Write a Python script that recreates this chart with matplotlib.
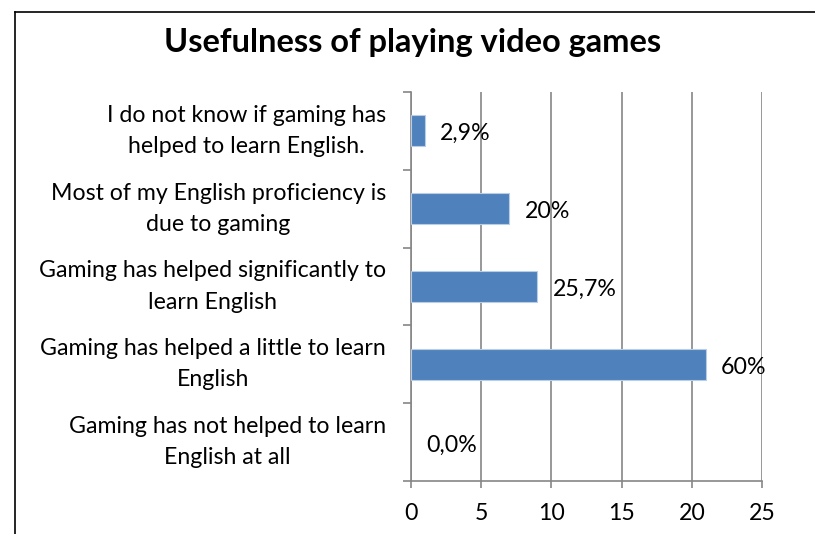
import matplotlib.pyplot as plt
from matplotlib.lines import Line2D
import numpy as np

categories = [
    'Gaming has not helped to learn\nEnglish at all',
    'Gaming has helped a little to learn\nEnglish',
    'Gaming has helped significantly to\nlearn English',
    'Most of my English proficiency is\ndue to gaming',
    'I do not know if gaming has\nhelped to learn English.',
]
counts = [0, 21, 9, 7, 1]
pct_labels = ['0,0%', '60%', '25,7%', '20%', '2,9%']
x_ticks = [0, 5, 10, 15, 20, 25]

plt.rcParams['font.family'] = ['Lato', 'DejaVu Sans']
FS = 16.7

fig = plt.figure(figsize=(8.15, 5.34), dpi=100)
ax = fig.add_axes([0.5043, 0.0993, 0.4307, 0.7284])

y = np.arange(len(categories))
edges = ['#b9cde5' if c > 0 else 'none' for c in counts]
ax.barh(y, counts, height=0.4, color='#4f81bd', edgecolor=edges, linewidth=0.8, zorder=3)

for yi, c, lab in zip(y, counts, pct_labels):
    ax.annotate(lab, (c, yi), xytext=(11, -2), textcoords='offset points',
                ha='left', va='center', fontsize=FS, color='black', zorder=4)

ax.set_xlim(0, 25)
ax.set_ylim(-0.5, len(categories) - 0.5)
ax.set_xticks(x_ticks)
ax.set_xticklabels([str(t) for t in x_ticks], fontsize=FS)
ax.set_yticks(y)
ax.set_yticklabels(categories, fontsize=FS, multialignment='center', linespacing=1.6, va='center')
ax.set_yticks(np.arange(-0.5, len(categories)), minor=True)
ax.tick_params(axis='y', which='major', length=0, pad=18)
ax.tick_params(axis='y', which='minor', length=6, width=1.2, color='#868686', direction='out')
ax.tick_params(axis='x', length=5, width=1.2, color='#868686', pad=11)

ax.grid(axis='x', color='#868686', linewidth=1.2, zorder=0)
for s in ['top', 'right']:
    ax.spines[s].set_visible(False)
for s in ['left', 'bottom']:
    ax.spines[s].set_color('#868686')
    ax.spines[s].set_linewidth(1.2)

fig.text(0.506, 0.921, 'Usefulness of playing video games', ha='center', va='center',
         fontsize=23.5, fontweight='bold')

# outer chart frame
fig.add_artist(Line2D([15 / 815, 1], [1 - 12 / 534] * 2, transform=fig.transFigure, color='black', linewidth=1.2))
fig.add_artist(Line2D([15 / 815] * 2, [0, 1 - 12 / 534], transform=fig.transFigure, color='black', linewidth=1.2))

fig.savefig('out.png', dpi=100)
